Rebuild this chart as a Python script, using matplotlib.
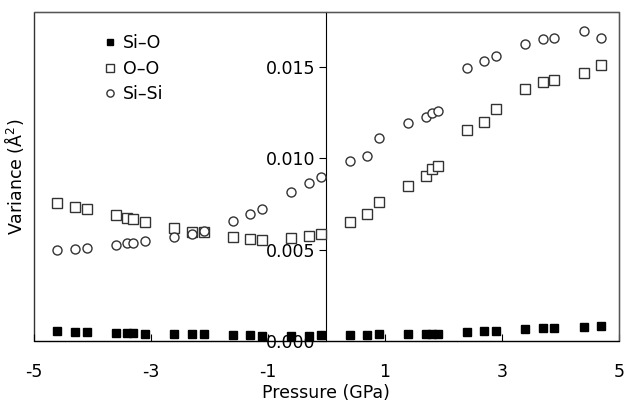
import matplotlib
matplotlib.use('Agg')
import matplotlib.pyplot as plt
from matplotlib.patches import Rectangle

# pressure points (GPa)
pressure = [-4.6, -4.3, -4.1, -3.6, -3.4, -3.3, -3.1, -2.6, -2.3, -2.1,
            -1.6, -1.3, -1.1, -0.6, -0.3, -0.1,
            0.4, 0.7, 0.9, 1.4, 1.7, 1.8, 1.9, 2.4, 2.7, 2.9,
            3.4, 3.7, 3.9, 4.4, 4.7]

si_o = [0.00055, 0.00048, 0.00048, 0.00044, 0.00043, 0.00043, 0.00040, 0.00039, 0.00037, 0.00036,
        0.00033, 0.00031, 0.00029, 0.00029, 0.00029, 0.00031,
        0.00033, 0.00034, 0.00036, 0.00037, 0.00037, 0.00037, 0.00037, 0.00051, 0.00053, 0.00057,
        0.00066, 0.00069, 0.00071, 0.00077, 0.00084]

o_o = [0.00754, 0.00732, 0.00721, 0.00688, 0.00674, 0.00666, 0.00650, 0.00617, 0.00599, 0.00597,
       0.00571, 0.00559, 0.00553, 0.00562, 0.00575, 0.00586,
       0.00653, 0.00697, 0.00760, 0.00850, 0.00904, 0.00940, 0.00958, 0.01155, 0.01199, 0.01272,
       0.01378, 0.01420, 0.01429, 0.01469, 0.01511]

si_si = [0.00497, 0.00504, 0.00509, 0.00526, 0.00535, 0.00538, 0.00546, 0.00568, 0.00588, 0.00604,
         0.00655, 0.00697, 0.00721, 0.00814, 0.00865, 0.00896,
         0.00986, 0.01013, 0.01113, 0.01192, 0.01228, 0.01247, 0.01261, 0.01493, 0.01530, 0.01561,
         0.01628, 0.01655, 0.01658, 0.01699, 0.01658]

xticks = [-5, -3, -1, 1, 3, 5]
yticks = [0.0, 0.005, 0.010, 0.015]

plt.rcParams['font.family'] = ['Verdana', 'DejaVu Sans']
plt.rcParams['font.size'] = 12.5

fig = plt.figure(figsize=(6.27, 4.03), dpi=100)
ax = fig.add_axes([0.054, 0.154, 0.933, 0.816])
ax.set_axisbelow(True)  # markers go over the tick labels, as in the original

ax.plot(pressure, si_o, ls='none', marker='s', ms=6, mfc='black', mec='black', label='Si\u2013O')
ax.plot(pressure, o_o, ls='none', marker='s', ms=6.5, mfc='white', mec='#333333', mew=1, label='O\u2013O')
ax.plot(pressure, si_si, ls='none', marker='o', ms=6.5, mfc='white', mec='#333333', mew=1, label='Si\u2013Si')

ax.set_xlim(-5, 5)
ax.set_ylim(0, 0.018)

# y axis runs through x = 0
ax.spines['left'].set_position(('data', 0))
ax.spines['left'].set_zorder(0.6)
for s in ['top', 'right']:
    ax.spines[s].set_color('#555555')
ax.add_patch(Rectangle((0, 0), 1, 1, transform=ax.transAxes, fill=False,
                       ec='#333333', lw=1, clip_on=False, zorder=0))

ax.set_xticks(xticks)
ax.set_xticklabels([str(t) for t in xticks])
ax.set_yticks(yticks)
ax.set_yticklabels(['%.3f' % t for t in yticks])
ax.tick_params(axis='x', direction='in', length=5, pad=16)
ax.tick_params(axis='y', direction='out', length=5, pad=3)

ax.set_xlabel('Pressure (GPa)', labelpad=2)
fig.text(0.022, 0.56, 'Variance (\u00c5$^2$)', rotation=90, ha='center', va='center')

ax.legend(loc='upper left', bbox_to_anchor=(0.11, 0.955), frameon=False, markerscale=0.8,
          handlelength=0.6, handletextpad=0.4, labelspacing=0.45, borderaxespad=0)

fig.savefig('out.png', dpi=100)
